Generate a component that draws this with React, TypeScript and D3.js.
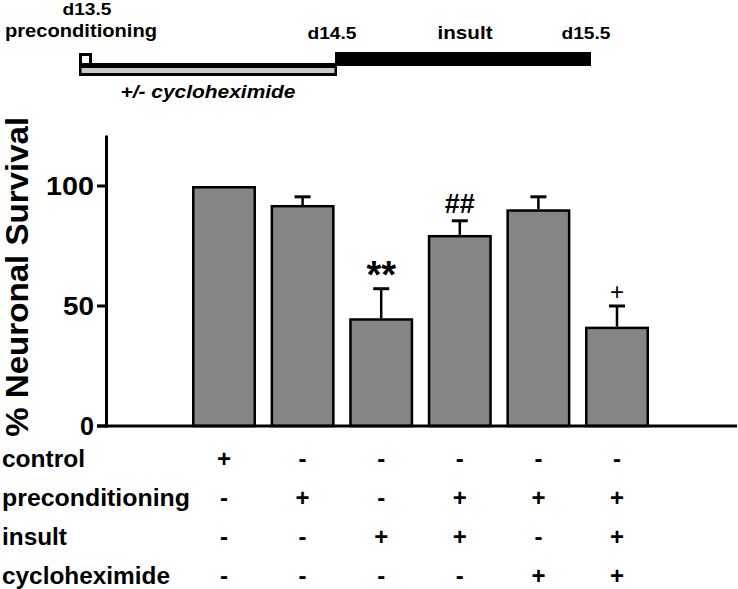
import React from 'react';
import * as d3 from 'd3';

// ---------- data ----------
const groups = ['g1', 'g2', 'g3', 'g4', 'g5', 'g6'];
const survival = [100, 92.1, 44.9, 79.6, 90.3, 41.4];
const sem = [0, 3.4, 12.3, 5.9, 5.2, 8.6];
const significance = ['', '', '**', '##', '', '+'];
const treatmentNames = ['control', 'preconditioning', 'insult', 'cycloheximide'];
const treatmentRows = [
  ['+', '-', '-', '-', '-', '-'],
  ['-', '+', '-', '+', '+', '+'],
  ['-', '-', '+', '+', '-', '+'],
  ['-', '-', '-', '-', '+', '+'],
];
const yTicks = [0, 50, 100];
const yLabel = '% Neuronal Survival';
const timelineDays = [13.5, 14.5, 15.5];
const timelineDayLabels = ['d13.5', 'd14.5', 'd15.5'];

const FONT = '"Liberation Sans", Arial, Helvetica, sans-serif';

export default function App() {
  const W = 738;
  const H = 589;

  // scales
  const x = d3
    .scaleBand<string>()
    .domain(groups)
    .range([184.7, 656.3])
    .paddingInner(0.186)
    .paddingOuter(0.093);
  const y = d3.scaleLinear().domain([0, 121]).range([426, 426 - 2.4 * 121]);
  const t = d3.scaleLinear().domain([13.5, 15.5]).range([79, 591]);

  const bw = x.bandwidth();
  const cx = (i: number) => (x(groups[i]) as number) + bw / 2;

  const labelW: Record<string, number> = { control: 83, preconditioning: 188, insult: 65, cycloheximide: 168 };
  const tickW: Record<string, number> = { '0': 14, '50': 31, '100': 48 };
  const annSize = [0, 0, 38, 27, 0, 24];
  const annGap = [0, 0, 1, 8, 0, 6];
  const annWeight = ['bold', 'bold', 'bold', 'bold', 'bold', 'normal'];
  const dayOffset = [8, -3, -5];
  const rowBase = [467, 506, 545, 584];

  return (
    <svg
      width={W}
      height={H}
      viewBox={`0 0 ${W} ${H}`}
      style={{ position: 'absolute', left: 0, top: 0, display: 'block', background: '#fff' }}
      fontFamily={FONT}
    >
      {/* ---------- timeline ---------- */}
      <g>
        {timelineDays.map((d, i) => (
          <text
            key={d}
            x={t(d) + dayOffset[i]}
            y={i === 0 ? 15 : 39}
            textAnchor="middle"
            fontSize={17}
            fontWeight="bold"
            textLength={49}
            lengthAdjust="spacingAndGlyphs"
          >
            {timelineDayLabels[i]}
          </text>
        ))}
        <text x={t(13.5) + 2} y={37} textAnchor="middle" fontSize={18} fontWeight="bold" textLength={152} lengthAdjust="spacingAndGlyphs">
          preconditioning
        </text>
        <text x={(t(14.5) + t(15.5)) / 2 + 2} y={39} textAnchor="middle" fontSize={18} fontWeight="bold" textLength={55} lengthAdjust="spacingAndGlyphs">
          insult
        </text>
        {/* insult bar */}
        <rect x={t(14.5)} y={52} width={t(15.5) - t(14.5)} height={14} fill="#000" />
        {/* small open box */}
        <rect x={t(13.5) + 1.5} y={54.5} width={10} height={10} fill="#fff" stroke="#000" strokeWidth={3} />
        {/* preconditioning / cycloheximide bar */}
        <rect x={t(13.5)} y={63} width={t(14.5) - t(13.5) + 2} height={13} fill="#000" />
        <rect x={t(13.5) + 2.5} y={68} width={t(14.5) - t(13.5) - 3} height={5} fill="#c8c8c8" />
        <text
          x={(t(13.5) + t(14.5)) / 2 + 1}
          y={98}
          textAnchor="middle"
          fontSize={18}
          fontWeight="bold"
          fontStyle="italic"
          textLength={175}
          lengthAdjust="spacingAndGlyphs"
        >
          +/- cycloheximide
        </text>
      </g>

      {/* ---------- bars ---------- */}
      <g>
        {survival.map((v, i) => (
          <rect
            key={groups[i]}
            x={(x(groups[i]) as number) + 1.25}
            y={y(v) + 1.25}
            width={bw - 2.5}
            height={y(0) - y(v) - 1.25}
            fill="#858585"
            stroke="#000"
            strokeWidth={2.5}
          />
        ))}
        {survival.map((v, i) =>
          sem[i] > 0 ? (
            <g key={'e' + i} stroke="#000">
              <line x1={cx(i)} x2={cx(i)} y1={y(v)} y2={y(v + sem[i])} strokeWidth={2.5} />
              <line x1={cx(i) - 8} x2={cx(i) + 8} y1={y(v + sem[i])} y2={y(v + sem[i])} strokeWidth={3} />
            </g>
          ) : null
        )}
        {significance.map((s, i) =>
          s ? (
            <text
              key={'s' + i}
              x={cx(i)}
              y={y(survival[i] + sem[i]) - annGap[i]}
              textAnchor="middle"
              fontSize={annSize[i]}
              fontWeight={annWeight[i]}
            >
              {s}
            </text>
          ) : null
        )}
      </g>

      {/* ---------- axes ---------- */}
      <g stroke="#000" strokeWidth={3}>
        <line x1={106.5} x2={106.5} y1={y(121)} y2={y(0) + 1.5} />
        <line x1={97} x2={737} y1={y(0)} y2={y(0)} />
        {yTicks.map((v) => (
          <line key={v} x1={97} x2={106.5} y1={y(v)} y2={y(v)} />
        ))}
      </g>
      {yTicks.map((v) => (
        <text
          key={'t' + v}
          x={94}
          y={y(v) + 9}
          textAnchor="end"
          fontSize={25}
          fontWeight="bold"
          textLength={tickW[String(v)]}
          lengthAdjust="spacingAndGlyphs"
        >
          {v}
        </text>
      ))}
      <text
        transform={`translate(28, ${(y(0) + y(121)) / 2 - 4}) rotate(-90)`}
        textAnchor="middle"
        fontSize={32}
        fontWeight="bold"
        textLength={320}
        lengthAdjust="spacingAndGlyphs"
      >
        {yLabel}
      </text>

      {/* ---------- treatment table ---------- */}
      {treatmentNames.map((name, r) => (
        <g key={name}>
          <text x={2} y={rowBase[r]} fontSize={23} fontWeight="bold" textLength={labelW[name]} lengthAdjust="spacingAndGlyphs">
            {name}
          </text>
          {treatmentRows[r].map((s, i) => (
            <text key={i} x={cx(i)} y={rowBase[r]} textAnchor="middle" fontSize={24} fontWeight="bold">
              {s}
            </text>
          ))}
        </g>
      ))}
    </svg>
  );
}
